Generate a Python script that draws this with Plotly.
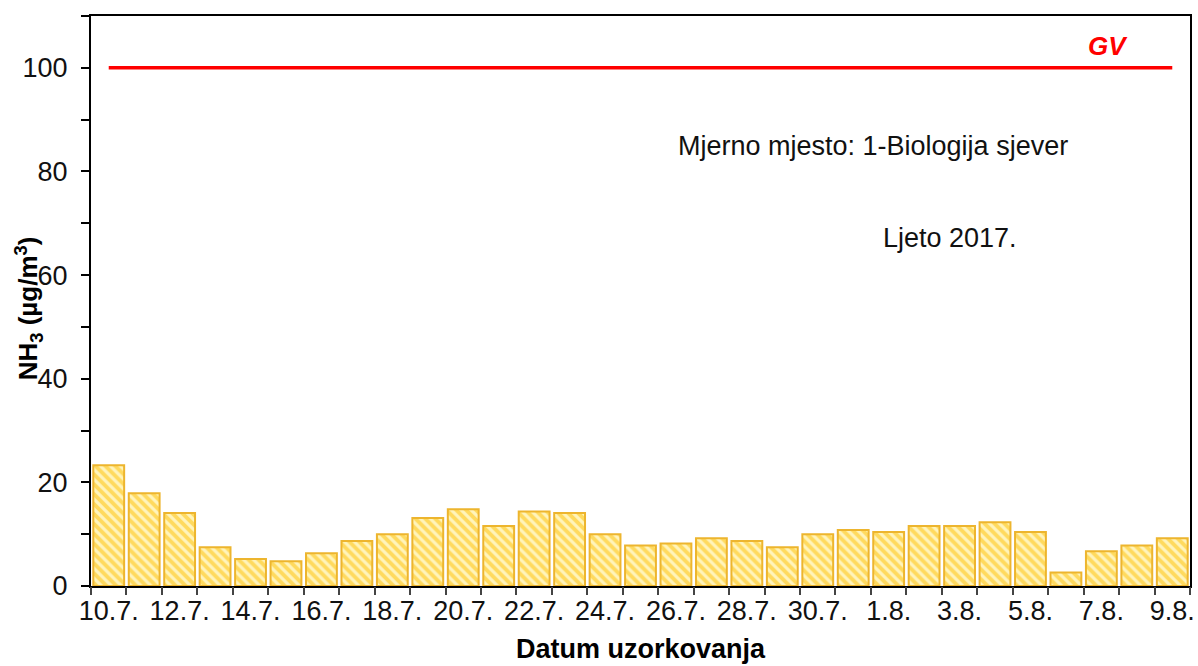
import plotly.graph_objects as go

dates = ["10.7.", "11.7.", "12.7.", "13.7.", "14.7.", "15.7.", "16.7.", "17.7.", "18.7.", "19.7.",
         "20.7.", "21.7.", "22.7.", "23.7.", "24.7.", "25.7.", "26.7.", "27.7.", "28.7.", "29.7.",
         "30.7.", "31.7.", "1.8.", "2.8.", "3.8.", "4.8.", "5.8.", "6.8.", "7.8.", "8.8.", "9.8."]
nh3 = [23.3, 17.9, 14.1, 7.5, 5.2, 4.8, 6.3, 8.7, 10.0, 13.1,
       14.8, 11.6, 14.4, 14.1, 10.0, 7.8, 8.2, 9.2, 8.7, 7.5,
       10.0, 10.8, 10.4, 11.6, 11.6, 12.3, 10.4, 2.6, 6.7, 7.8, 9.2]
gv_value = 100
y_ticks = [0, 20, 40, 60, 80, 100]

idx = list(range(len(dates)))
label_idx = idx[::2]
label_text = [dates[i] for i in label_idx]
boundaries = [i - 0.5 for i in range(len(dates) + 1)]
x_range = [-0.5, len(dates) - 0.5]

FONT = "Liberation Sans, Arial, sans-serif"

fig = go.Figure()
fig.add_trace(go.Bar(
    x=idx, y=nh3,
    marker=dict(
        color="#FFC000",
        line=dict(color="#EDB52E", width=2),
        pattern=dict(shape="\\", fgcolor="#FFC000", bgcolor="#FFF4BC", size=7, solidity=0.55),
    ),
    showlegend=False,
))
fig.add_trace(go.Scatter(
    x=idx, y=[gv_value] * len(idx), mode="lines",
    line=dict(color="#FF0000", width=3.5),
    showlegend=False,
))
# empty trace so the boundary-tick axis is always rendered
fig.add_trace(go.Scatter(x=[], y=[], xaxis="x2", yaxis="y", showlegend=False, hoverinfo="skip"))

fig.update_layout(
    width=1198, height=666,
    margin=dict(l=91, r=3, t=16, b=80),
    paper_bgcolor="white", plot_bgcolor="white",
    bargap=0.13,
    font=dict(family=FONT, color="#111111"),
    annotations=[
        dict(text="Mjerno mjesto: 1-Biologija sjever", xref="paper", yref="paper",
             x=0.712, y=0.772, xanchor="center", yanchor="middle", showarrow=False,
             font=dict(size=27, color="#111111")),
        dict(text="Ljeto 2017.", xref="paper", yref="paper",
             x=0.782, y=0.611, xanchor="center", yanchor="middle", showarrow=False,
             font=dict(size=27, color="#111111")),
        dict(text="<b><i>GV</i></b>", xref="paper", yref="paper",
             x=0.925, y=0.947, xanchor="center", yanchor="middle", showarrow=False,
             font=dict(size=26, color="#FF0000")),
        dict(text="<b>NH<sub>3</sub> (µg/m<sup>3</sup>)</b>", xref="paper", yref="paper",
             x=-0.057, y=0.488, xanchor="center", yanchor="middle", textangle=-90, showarrow=False,
             font=dict(size=26, color="#000000")),
        dict(text="<b>Datum uzorkovanja</b>", xref="paper", yref="paper",
             x=0.5, y=-0.11, xanchor="center", yanchor="middle", showarrow=False,
             font=dict(size=27, color="#000000")),
    ],
    xaxis=dict(
        range=x_range,
        tickmode="array", tickvals=label_idx, ticktext=label_text,
        ticks="", tickfont=dict(size=27, color="#111111"),
        showline=True, linecolor="black", linewidth=2, mirror=True,
        showgrid=False, zeroline=False,
    ),
    xaxis2=dict(
        overlaying="x", anchor="y", side="bottom", range=x_range,
        tickmode="array", tickvals=boundaries, ticktext=[""] * len(boundaries),
        ticks="outside", ticklen=8, tickwidth=1.5, tickcolor="#444444",
        showline=False, showgrid=False, zeroline=False,
    ),
)

fig.update_yaxes(
    range=[0, 110],
    tickmode="array", tickvals=y_ticks,
    ticks="outside", ticklen=8, tickwidth=2, tickcolor="black",
    minor=dict(dtick=10, tick0=0, ticks="outside", ticklen=8, tickwidth=2, tickcolor="black"),
    tickfont=dict(size=27, color="#111111"),
    ticklabelstandoff=8,
    showline=True, linecolor="black", linewidth=2, mirror=True,
    showgrid=False, zeroline=False,
)

fig.write_html("out.html", config={"displayModeBar": False},
               post_script="document.body.style.margin='0';")
